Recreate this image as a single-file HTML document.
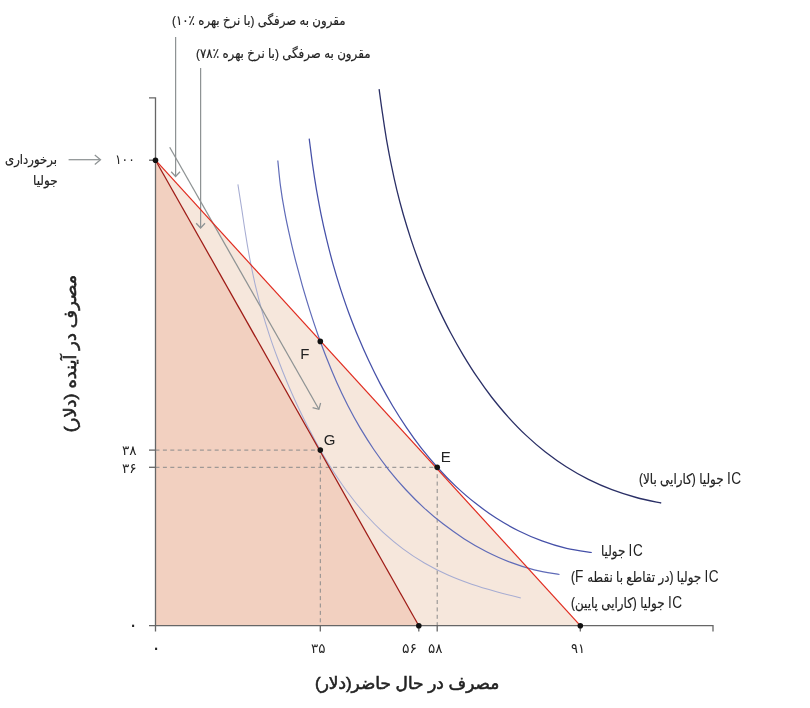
<!DOCTYPE html>
<html lang="fa"><head><meta charset="utf-8"><title>chart</title><style>html,body{margin:0;padding:0;background:#fff}
#c{position:relative;width:810px;height:708px;overflow:hidden;background:#fff;font-family:"Liberation Sans","DejaVu Sans",sans-serif;color:#222}
#c svg{position:absolute;left:0;top:0}
.t{position:absolute;white-space:nowrap;line-height:1;direction:rtl;transform-origin:0 50%}
.t b{font-weight:400;font-size:16px;letter-spacing:0.7px;-webkit-text-stroke:0}
.t{-webkit-text-stroke:0.2px #222}
.n{-webkit-text-stroke:0}
.bl{-webkit-text-stroke:0.6px #222}
</style></head><body><div id="c">
<svg width="810" height="708" viewBox="0 0 810 708">
<rect width="810" height="708" fill="#fff"/>
<polygon points="155.5,160.2 580.3,625.7 155.5,625.7" fill="#f6e7dc"/>
<polygon points="155.5,160.2 418.8,625.7 155.5,625.7" fill="#f2d0c0"/>
<g fill="none" stroke="#8a8a8a" stroke-width="1" stroke-dasharray="4,3.4">
<path d="M155.5,450.1 H320.3 V625.7"/>
<path d="M155.5,467.3 H437.2 V625.7"/>
</g>
<g fill="none" stroke-width="1.2">
<path d="M237.9,184.3 C238.5,188.5 240.5,200.9 241.8,209.4 C243.1,217.8 244.3,226.4 245.7,234.9 C247.0,243.4 248.5,251.9 250.1,260.4 C251.7,268.8 253.5,277.3 255.4,285.6 C257.4,293.9 259.5,302.2 261.8,310.4 C264.1,318.6 266.6,326.7 269.3,334.8 C271.9,342.8 274.8,350.8 277.8,358.8 C280.8,366.8 283.9,374.7 287.2,382.5 C290.5,390.4 294.0,398.2 297.6,406.0 C301.3,413.7 305.0,421.5 309.0,429.1 C312.9,436.7 317.0,444.3 321.3,451.7 C325.6,459.1 330.1,466.5 334.8,473.7 C339.5,480.8 344.3,487.9 349.5,494.7 C354.6,501.5 360.0,508.2 365.6,514.5 C371.3,520.8 377.2,526.9 383.4,532.7 C389.7,538.4 396.2,543.9 403.0,548.9 C409.8,554.0 417.0,558.7 424.4,563.0 C431.8,567.3 439.5,571.2 447.4,574.7 C455.3,578.2 463.5,581.3 471.7,584.2 C479.9,587.0 488.3,589.4 496.5,591.7 C504.7,594.0 516.7,597.0 520.8,598.0" stroke="#a6acd2" stroke-width="1.05"/>
<path d="M277.8,160.5 C278.3,164.8 279.3,177.7 280.5,186.1 C281.6,194.6 283.0,203.0 284.6,211.4 C286.1,219.7 287.9,228.0 289.8,236.3 C291.6,244.6 293.6,252.9 295.7,261.2 C297.9,269.4 300.1,277.6 302.4,285.9 C304.8,294.1 307.2,302.2 309.8,310.4 C312.4,318.5 315.1,326.7 317.9,334.7 C320.8,342.8 323.7,350.8 326.9,358.8 C330.0,366.7 333.3,374.6 336.8,382.4 C340.3,390.2 344.0,397.9 347.8,405.5 C351.7,413.1 355.8,420.6 360.1,427.9 C364.5,435.2 369.0,442.4 373.8,449.5 C378.6,456.5 383.7,463.4 388.9,470.1 C394.2,476.7 399.8,483.2 405.6,489.5 C411.4,495.7 417.4,501.8 423.7,507.6 C430.0,513.4 436.5,518.9 443.3,524.1 C450.1,529.3 457.1,534.3 464.3,538.9 C471.5,543.5 479.0,547.8 486.6,551.7 C494.2,555.5 502.0,559.1 510.0,562.1 C517.9,565.1 526.1,567.8 534.3,569.8 C542.6,571.9 555.3,573.7 559.5,574.5" stroke="#5f6bb8"/>
<path d="M309.2,138.6 C309.8,142.8 311.3,155.6 312.5,164.1 C313.7,172.5 315.0,181.0 316.4,189.4 C317.9,197.8 319.4,206.3 321.1,214.6 C322.8,223.0 324.7,231.3 326.7,239.6 C328.7,247.9 330.8,256.2 333.1,264.4 C335.4,272.6 337.9,280.8 340.5,288.9 C343.2,297.1 345.9,305.2 348.9,313.2 C351.9,321.2 355.0,329.2 358.3,337.1 C361.6,345.0 365.0,352.8 368.7,360.6 C372.3,368.3 376.1,376.0 380.1,383.6 C384.1,391.1 388.3,398.6 392.7,406.0 C397.1,413.3 401.7,420.6 406.5,427.6 C411.3,434.7 416.3,441.7 421.5,448.4 C426.8,455.1 432.3,461.7 438.0,468.0 C443.7,474.4 449.7,480.5 455.9,486.4 C462.1,492.2 468.5,497.9 475.3,503.1 C482.0,508.4 488.9,513.4 496.1,518.0 C503.3,522.6 510.8,526.9 518.4,530.7 C526.1,534.5 534.0,538.0 542.0,540.9 C550.0,543.9 558.3,546.4 566.6,548.3 C574.9,550.2 587.6,551.8 591.8,552.5" stroke="#4550a8" stroke-width="1.25"/>
<path d="M379.1,89.1 C379.7,93.3 381.3,105.8 382.6,114.2 C383.8,122.7 385.1,131.1 386.5,139.6 C388.0,148.0 389.5,156.4 391.3,164.8 C393.0,173.2 394.8,181.5 396.8,189.8 C398.8,198.1 401.0,206.3 403.3,214.5 C405.7,222.7 408.2,230.8 410.8,238.9 C413.5,247.0 416.3,255.0 419.3,262.9 C422.2,270.9 425.4,278.8 428.7,286.6 C432.0,294.4 435.5,302.2 439.1,309.9 C442.8,317.6 446.6,325.3 450.6,332.8 C454.6,340.3 458.8,347.8 463.2,355.1 C467.6,362.4 472.1,369.7 476.9,376.7 C481.7,383.8 486.7,390.8 491.9,397.5 C497.2,404.2 502.6,410.8 508.3,417.1 C514.0,423.4 519.9,429.6 526.1,435.4 C532.3,441.2 538.7,446.8 545.4,452.0 C552.1,457.2 559.0,462.2 566.2,466.7 C573.4,471.3 580.8,475.5 588.4,479.3 C596.1,483.1 603.9,486.6 611.9,489.6 C619.9,492.6 628.1,495.2 636.3,497.5 C644.6,499.7 657.1,502.1 661.2,503.0" stroke="#2a2f66" stroke-width="1.3"/>
</g>
<g fill="none" stroke="#8e9394" stroke-width="1.25">
<path d="M169.7,147.2 L318.9,409.3"/>
<path d="M312.6,407.6 L318.9,409.3 L320.6,403.0"/>
<path d="M175.6,37 V176"/><path d="M171.2,171.8 L175.6,176.5 L180.0,171.8"/>
<path d="M200.6,68 V227.5"/><path d="M196.2,223.3 L200.6,228.0 L205.0,223.3"/>
<path d="M68.6,159.7 H100"/><path d="M94.8,164.5 L100.5,159.7 L94.8,154.9"/>
</g>
<path d="M155.5,160.2 L580.3,625.7" stroke="#e02a1e" stroke-width="1.2" fill="none"/>
<path d="M155.5,160.2 L418.8,625.7" stroke="#9e1b16" stroke-width="1.25" fill="none"/>
<g fill="none" stroke="#666" stroke-width="1.3">
<path d="M149,97.8 H155.5 V625.7 H713 V631.5"/>
<path d="M149,160.2 H155.5"/>
<path d="M149,450.1 H155.5"/>
<path d="M149,467.3 H155.5"/>
<path d="M149,625.7 H155.5 V631.5"/>
<path d="M320.3,625.7 V631.5"/>
<path d="M418.8,625.7 V631.5"/>
<path d="M437.2,625.7 V631.5"/>
<path d="M580.3,625.7 V631.5"/>
</g>
<g fill="#111">
<circle cx="155.5" cy="160.2" r="2.8"/>
<circle cx="320.3" cy="341.4" r="2.8"/>
<circle cx="320.3" cy="450.1" r="2.8"/>
<circle cx="437.2" cy="467.3" r="2.8"/>
<circle cx="418.8" cy="625.7" r="2.8"/>
<circle cx="580.3" cy="625.7" r="2.8"/>
</g>
</svg>
<div class="t" id="t1" style="left:172px;top:13.8px;font-size:13.5px;font-weight:400;transform:scaleX(0.8737)">مقرون به صرفگی (با نرخ بهره ٪۱۰)</div>
<div class="t" id="t2" style="left:196px;top:47.4px;font-size:13.5px;font-weight:400;transform:scaleX(0.8788)">مقرون به صرفگی (با نرخ بهره ٪۷۸)</div>
<div class="t" id="t3" style="left:5.4px;top:152.8px;font-size:13.5px;font-weight:400;transform:scaleX(0.8663)">برخورداری</div>
<div class="t" id="t4" style="left:32.6px;top:174.4px;font-size:13.5px;font-weight:400;transform:scaleX(0.8941)">جولیا</div>
<div class="t n" id="n100" style="left:114.8px;top:152.8px;font-size:13.5px;font-weight:400;transform:scaleX(0.9097)">۱۰۰</div>
<div class="t n" id="n38" style="left:121.5px;top:443.6px;font-size:13.5px;font-weight:400;transform:scaleX(1.0127)">۳۸</div>
<div class="t n" id="n36" style="left:121.5px;top:461.9px;font-size:13.5px;font-weight:400;transform:scaleX(1.0127)">۳۶</div>
<div class="t n" id="n0y" style="left:123.0px;width:20px;text-align:center;top:615.1px;font-size:19px;font-weight:400">۰</div>
<div class="t n" id="n0x" style="left:146.1px;width:20px;text-align:center;top:637.8px;font-size:19px;font-weight:400">۰</div>
<div class="t n" id="n35" style="left:310.5px;top:641.9px;font-size:13.5px;font-weight:400;transform:scaleX(0.9989)">۳۵</div>
<div class="t n" id="n56" style="left:401.5px;top:641.9px;font-size:13.5px;font-weight:400;transform:scaleX(1.0334)">۵۶</div>
<div class="t n" id="n58" style="left:428px;top:641.9px;font-size:13.5px;font-weight:400;transform:scaleX(0.9989)">۵۸</div>
<div class="t n" id="n91" style="left:570.5px;top:641.9px;font-size:13.5px;font-weight:400;transform:scaleX(0.9645)">۹۱</div>
<div class="t" id="l4" style="left:639.2px;top:471.4px;font-size:14px;font-weight:400;transform:scaleX(0.8542)"><b>IC</b> جولیا (کارایی بالا)</div>
<div class="t" id="l3" style="left:601.4px;top:542.6px;font-size:14px;font-weight:400;transform:scaleX(0.8468)"><b>IC</b> جولیا</div>
<div class="t" id="l2" style="left:570.9px;top:569.2px;font-size:14px;font-weight:400;transform:scaleX(0.8514)"><b>IC</b> جولیا (در تقاطع با نقطه <b>F</b>)</div>
<div class="t" id="l1" style="left:570.9px;top:595.2px;font-size:14px;font-weight:400;transform:scaleX(0.8518)"><b>IC</b> جولیا (کارایی پایین)</div>
<div class="t n" id="pF" style="left:294.8px;width:20px;text-align:center;top:346.2px;font-size:15px;font-weight:400">F</div>
<div class="t n" id="pG" style="left:319.5px;width:20px;text-align:center;top:432.4px;font-size:15px;font-weight:400">G</div>
<div class="t n" id="pE" style="left:435.8px;width:20px;text-align:center;top:449.2px;font-size:15px;font-weight:400">E</div>
<div class="t bl" id="xl" style="left:315.2px;top:674.5px;font-size:17px;font-weight:400;transform:scaleX(0.9949)">مصرف در حال حاضر(دلار)</div>
<div class="t bl" id="yl" style="left:70px;top:345.1px;font-size:17px;font-weight:400;transform-origin:50% 50%;transform:translateX(-50%) rotate(-90deg) scaleX(1.0485)">مصرف در آینده (دلار)</div>
</div></body></html>
